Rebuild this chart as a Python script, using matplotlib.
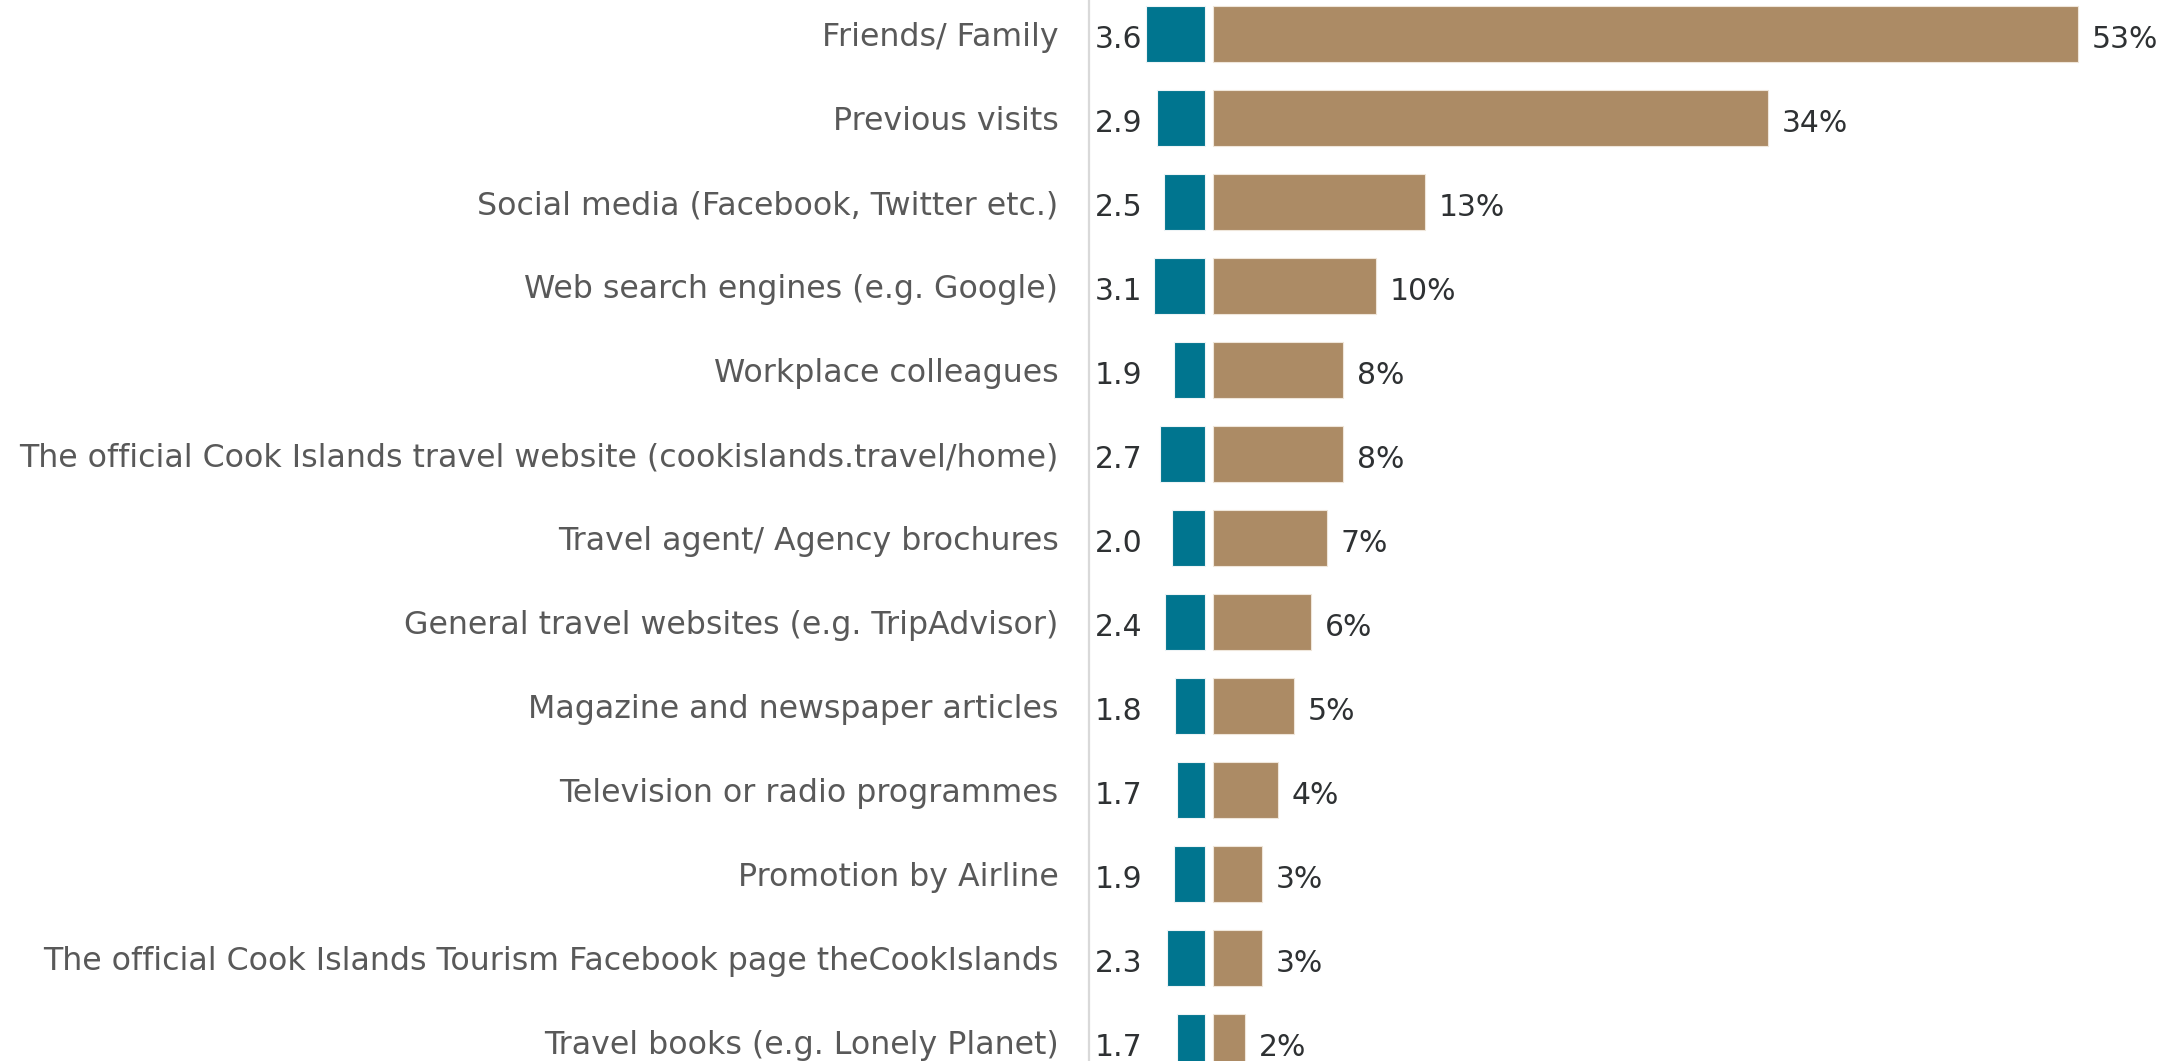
import matplotlib
matplotlib.use("Agg")
import matplotlib.pyplot as plt

# Information sources, average rating and share of respondents
sources = [
    "Friends/ Family",
    "Previous visits",
    "Social media (Facebook, Twitter etc.)",
    "Web search engines (e.g. Google)",
    "Workplace colleagues",
    "The official Cook Islands travel website (cookislands.travel/home)",
    "Travel agent/ Agency brochures",
    "General travel websites (e.g. TripAdvisor)",
    "Magazine and newspaper articles",
    "Television or radio programmes",
    "Promotion by Airline",
    "The official Cook Islands Tourism Facebook page theCookIslands",
    "Travel books (e.g. Lonely Planet)",
]
ratings = [3.6, 2.9, 2.5, 3.1, 1.9, 2.7, 2.0, 2.4, 1.8, 1.7, 1.9, 2.3, 1.7]
shares = [53, 34, 13, 10, 8, 8, 7, 6, 5, 4, 3, 3, 2]

TEAL = "#00758f"
TAN = "#ac8b65"
LABEL_GREY = "#595959"
VALUE_DARK = "#2e3133"

plt.rcParams["font.family"] = ["DejaVu Sans"]

W, H, DPI = 2174, 1061, 100
fig = plt.figure(figsize=(W / DPI, H / DPI), dpi=DPI)
ax = fig.add_axes([0.5009, -0.0217, 0.4991, 1.0292])

ypos = list(range(len(sources)))
gap = 0.49          # space between the rating bar and the share bar
bar_h = 0.667

ax.barh(ypos, [-r for r in ratings], left=-gap, height=bar_h,
        color=TEAL, edgecolor="#eef4f6", linewidth=0.8)
ax.barh(ypos, shares, left=0, height=bar_h,
        color=TAN, edgecolor="#efe6da", linewidth=0.8)

for y, r, s in zip(ypos, ratings, shares):
    ax.text(-5.74, y + 0.06, f"{r:.1f}", ha="center", va="center",
            fontsize=21.5, color=VALUE_DARK)
    ax.annotate(f"{s}%", xy=(s, y + 0.06), xytext=(10, 0),
                textcoords="offset points", ha="left", va="center",
                fontsize=21.5, color=VALUE_DARK)

ax.set_xlim(-7.57, 58.87)
ax.set_ylim(len(sources) - 0.5, -0.5)
ax.set_yticks(ypos)
ax.set_yticklabels(sources, fontsize=22.8, color=LABEL_GREY)
ax.tick_params(axis="y", length=0, pad=22)
ax.set_xticks([])

for side in ("top", "right", "bottom"):
    ax.spines[side].set_visible(False)
ax.spines["left"].set_color("#d9d9d9")
ax.spines["left"].set_linewidth(1.6)

fig.savefig("out.png", dpi=DPI)
